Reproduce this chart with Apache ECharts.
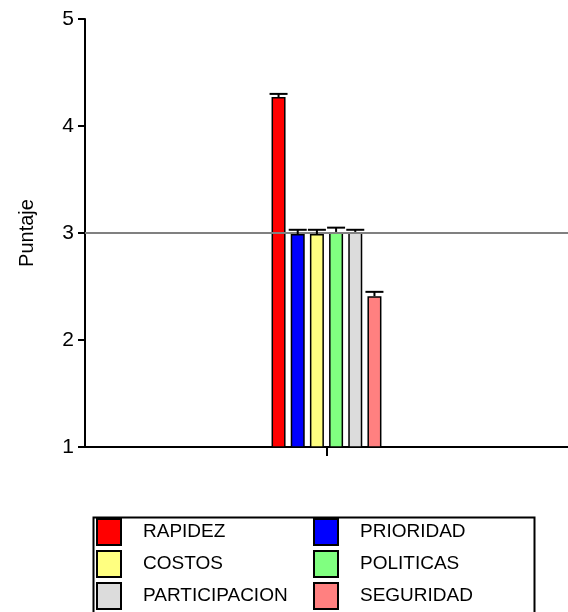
<!DOCTYPE html>
<html>
<head>
<meta charset="utf-8">
<script src="https://cdn.jsdelivr.net/npm/echarts@6/dist/echarts.min.js"></script>
<style>html,body{margin:0;padding:0;background:#fff;}#c{width:568px;height:612px;}</style>
</head>
<body>
<div id="c"></div>
<script>
var categories = [''];
var seriesNames = ['RAPIDEZ', 'PRIORIDAD', 'COSTOS', 'POLITICAS', 'PARTICIPACION', 'SEGURIDAD'];
var means = [4.27, 2.99, 2.99, 3.01, 3.01, 2.41];
var upper = [4.30, 3.03, 3.03, 3.05, 3.03, 2.45];
var colors = ['#ff0000', '#0000ff', '#ffff80', '#80ff80', '#dcdcdc', '#ff8080'];
var yTicks = [1, 2, 3, 4, 5];
var refValue = 3;

var BAR_W = 14, GAP = 0.37;
var step = BAR_W * (1 + GAP);
var font = 'Liberation Sans, Arial, sans-serif';

var series = seriesNames.map(function (n, i) {
  return {
    name: n, type: 'bar', barWidth: BAR_W, barGap: (GAP * 100) + '%',
    data: [means[i]],
    itemStyle: { color: colors[i], borderColor: '#000', borderWidth: 1.5 },
    z: 2
  };
});
series.push({
  type: 'line', data: [], z: 1, silent: true,
  markLine: { silent: true, symbol: 'none', label: { show: false },
    lineStyle: { color: '#808080', width: 2, type: 'solid' },
    data: [{ yAxis: refValue }] }
});
var errData = seriesNames.map(function (n, i) { return [0, i, means[i], upper[i]]; });
series.push({
  type: 'custom', z: 5, silent: true, data: errData,
  renderItem: function (params, api) {
    var si = api.value(1);
    var p0 = api.coord([api.value(0), api.value(2)]);
    var p1 = api.coord([api.value(0), api.value(3)]);
    var x = p0[0] + (si - 2.5) * step;
    var st = { stroke: '#000', lineWidth: 2 };
    return { type: 'group', children: [
      { type: 'line', shape: { x1: x, y1: p0[1], x2: x, y2: p1[1] }, style: st },
      { type: 'line', shape: { x1: x - 9, y1: p1[1], x2: x + 9, y2: p1[1] }, style: st }
    ]};
  }
});

var legendCommon = {
  orient: 'vertical', itemWidth: 24, itemHeight: 26, itemGap: 4, icon: 'rect',
  selectedMode: false, padding: 0, height: 100,
  itemStyle: { borderColor: '#000', borderWidth: 2 },
  textStyle: { fontSize: 19, color: '#000', fontFamily: font, padding: [0, 0, 0, 17] }
};

var chart = echarts.init(document.getElementById('c'), null, { renderer: 'canvas' });
chart.setOption({
  animation: false,
  backgroundColor: '#fff',
  grid: { left: 85, right: 0, top: 19, bottom: 165 },
  legend: [
    Object.assign({}, legendCommon, { left: 96, top: 518, data: [seriesNames[0], seriesNames[2], seriesNames[4]] }),
    Object.assign({}, legendCommon, { left: 313, top: 518, data: [seriesNames[1], seriesNames[3], seriesNames[5]] })
  ],
  graphic: [{ type: 'rect', left: 91, top: 515, shape: { width: 441, height: 110 },
    style: { fill: 'none', stroke: '#000', lineWidth: 2 }, silent: true, z: 0 }],
  xAxis: {
    type: 'category', data: categories,
    axisLine: { lineStyle: { color: '#000', width: 2 } },
    axisTick: { show: true, alignWithLabel: true, interval: 0, length: 9, lineStyle: { color: '#000', width: 2 } },
    axisLabel: { show: true, interval: 0, formatter: function () { return ' '; } },
    splitLine: { show: false }
  },
  yAxis: {
    type: 'value', min: yTicks[0], max: yTicks[yTicks.length - 1], interval: 1,
    name: 'Puntaje', nameLocation: 'middle', nameGap: 48,
    nameTextStyle: { fontSize: 20, color: '#000', fontFamily: font },
    axisLine: { show: true, lineStyle: { color: '#000', width: 2 } },
    axisTick: { show: true, length: 7, lineStyle: { color: '#000', width: 2 } },
    axisLabel: { fontSize: 21, color: '#000', fontFamily: font, margin: 11 },
    splitLine: { show: false }
  },
  series: series
});
</script>
</body>
</html>
